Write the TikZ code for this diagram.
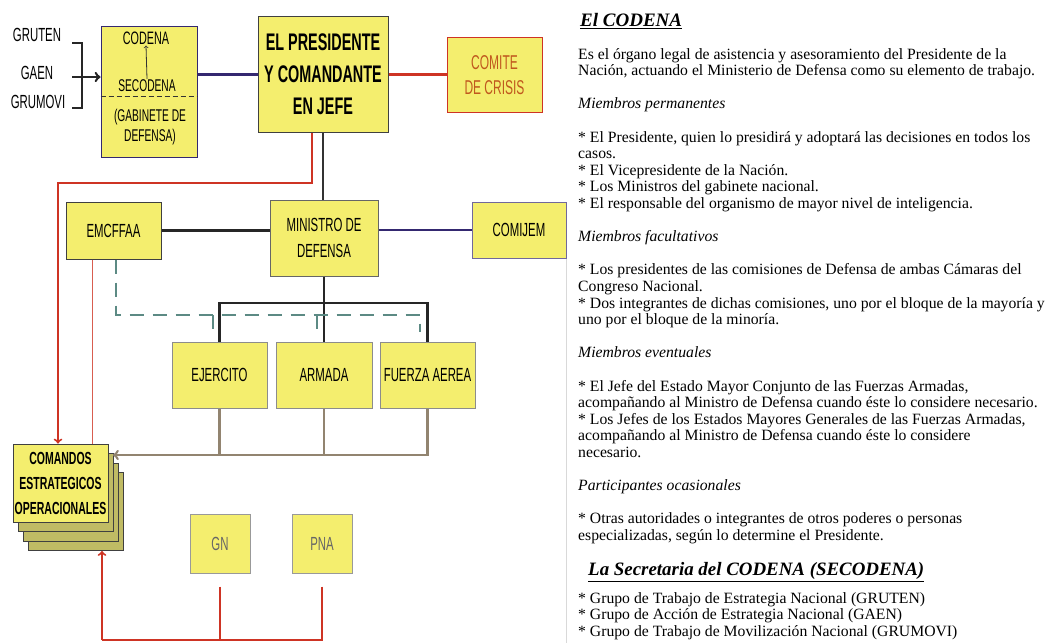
\documentclass[tikz,border=0pt]{standalone}
\usepackage{fontspec}
\setmainfont{Liberation Serif}
\newfontfamily\boxfont[FakeStretch=0.6]{Liberation Sans}
\usetikzlibrary{arrows}
\definecolor{cYellow}{RGB}{244,238,110}
\definecolor{cOlive}{RGB}{192,187,100}
\definecolor{cNavy}{RGB}{52,40,112}
\definecolor{cRed}{RGB}{206,52,36}
\definecolor{cTeal}{RGB}{92,138,132}
\definecolor{cBrown}{RGB}{146,132,112}
\definecolor{cOrange}{RGB}{192,88,30}

\begin{document}
\begin{tikzpicture}[x=1pt,y=-1pt,
  orgbox/.style={draw=black!75,fill=cYellow,line width=1pt,align=center,inner sep=1pt,text=black,font=\boxfont\fontsize{19}{26}\selectfont},
  stackbox/.style={draw=black!75,fill=cOlive,line width=1pt,minimum width=95,minimum height=78},
  lbl/.style={font=\boxfont\fontsize{19}{24}\selectfont,text=black,inner sep=1pt,align=center},
  navyln/.style={draw=cNavy,line width=2.5pt},
  redln/.style={draw=cRed,line width=2pt},
  blackln/.style={draw=black!85,line width=2.5pt},
  dashln/.style={draw=cTeal,line width=2.5pt,dash pattern=on 14pt off 9pt},
  brownln/.style={draw=cBrown,line width=2.5pt},
  thinred/.style={draw=cRed!80,line width=1pt},
  txt/.style={anchor=north west,inner sep=0pt,align=left,font=\fontsize{15.7}{16.6}\selectfont}
]
\useasboundingbox (0,0) rectangle (1051,642);

% Text Node
\node[lbl] (gruten) at (37,35) {GRUTEN};
% Text Node
\node[lbl] (gaen) at (37,73) {GAEN};
% Text Node
\node[lbl] (grumovi) at (38,102) {GRUMOVI};

%Shape: Rectangle
\node[orgbox,draw=cNavy,minimum width=96,minimum height=130] (codena) at (149,92) {};
% Text Node
\node[lbl,font=\boxfont\fontsize{18}{22}\selectfont] (codenat) at (146,38) {CODENA};
% Text Node
\node[lbl,font=\boxfont\fontsize{17}{20}\selectfont] (secod) at (147,86) {SECODENA};
% Text Node
\node[lbl,font=\boxfont\fontsize{17}{20}\selectfont] (gabin) at (150,127) {(GABINETE DE\\DEFENSA)};
\draw[black!80,line width=1.2pt,dash pattern=on 5pt off 3pt] ([yshift=-70pt]codena.north west) -- ([yshift=-70pt]codena.north east);
\draw[->,black!80,line width=0.8pt] (secod.north) -- (codenat.south);

%Straight Lines
\coordinate (brk) at (72,77);
\draw[blackln] (72,43) -- (82,43) -- (82,108) -- (72,108);
\draw[blackln,->] (brk) -- (brk -| codena.west);

%Shape: Rectangle
\node[orgbox,minimum width=130,minimum height=115,font=\boxfont\bfseries\fontsize{24}{32}\selectfont] (pres) at (323,74.5) {EL PRESIDENTE\\Y COMANDANTE\\EN JEFE};
%Shape: Rectangle
\node[orgbox,draw=cRed,text=cOrange,minimum width=95,minimum height=74,font=\boxfont\fontsize{20}{25}\selectfont] (comite) at (494.5,75) {COMITE\\DE CRISIS};
%Shape: Rectangle
\node[orgbox,minimum width=95,minimum height=57] (emcffaa) at (113.5,230.5) {EMCFFAA};
%Shape: Rectangle
\node[orgbox,draw=black!60,minimum width=108,minimum height=76] (ministro) at (324,238) {MINISTRO DE\\DEFENSA};
%Shape: Rectangle
\node[orgbox,draw=cNavy!70,minimum width=94,minimum height=56] (comijem) at (519,230) {COMIJEM};
%Shape: Rectangle
\node[orgbox,draw=black!45,minimum width=95,minimum height=66] (ejercito) at (219.5,375) {EJERCITO};
%Shape: Rectangle
\node[orgbox,draw=black!45,minimum width=96,minimum height=66] (armada) at (324,375) {ARMADA};
%Shape: Rectangle
\node[orgbox,draw=black!45,minimum width=95,minimum height=66] (fuerza) at (427.5,375) {FUERZA AEREA};
%Shape: Rectangle
\node[stackbox] (cmd3) at (75.5,511.5) {};
\node[stackbox] (cmd2) at (70.5,502) {};
\node[stackbox] (cmd1) at (65.5,492.5) {};
\node[orgbox,minimum width=95,minimum height=78,font=\boxfont\bfseries\fontsize{17.5}{25}\selectfont] (comandos) at (60.5,483) {COMANDOS\\ESTRATEGICOS\\OPERACIONALES};
%Shape: Rectangle
\node[orgbox,draw=black!40,text=black!60,minimum width=60,minimum height=59] (gn) at (220,543.5) {GN};
\node[orgbox,draw=black!40,text=black!60,minimum width=60,minimum height=59] (pna) at (322,543.5) {PNA};

%Straight Lines
\draw[navyln] (codena.east |- pres.west) -- (pres.west);
\draw[redln,line width=2.5pt] (pres.east) -- (pres.east -| comite.west);
\draw[redln,->] ([xshift=-11pt]pres.south) -- ++(0,50) -| ([xshift=-2.5pt]comandos.north);
\draw[black!80,line width=2pt] (pres.south) -- (pres.south |- ministro.north);
\draw[blackln] (emcffaa.east) -- (emcffaa.east -| ministro.west);
\draw[navyln,line width=2pt] (ministro.east |- comijem.west) -- (comijem.west);

% tree below the minister
\draw[blackln] (ministro.south) -- (armada.north);
\coordinate (tj) at (324,303);
\draw[blackln] (ejercito.north) |- (tj) -| (fuerza.north);

% dashed link
\coordinate (dsh1) at (213,315);
\coordinate (dsh2) at (317,315);
\coordinate (dsh3) at (420,315);
\draw[dashln] ([xshift=2.5pt]emcffaa.south) |- (dsh3) -- ++(0,17);
\draw[dashln] (dsh1) -- ++(0,17);
\draw[dashln] (dsh2) -- ++(0,17);

% to the strategic commands
\coordinate (cmdin) at (113,455);
\draw[brownln,->] (fuerza.south) |- (cmdin);
\draw[brownln] (ejercito.south) -- (ejercito.south |- cmdin);
\draw[brownln] (armada.south) -- (armada.south |- cmdin);
\coordinate (rt) at ([xshift=-21.5pt]emcffaa.south);
\draw[thinred] (rt) -- (rt |- comandos.north);

% bottom red lines
\coordinate (rb) at (102,640);
\draw[redln,->] (rb) -- (rb |- cmd3.south);
\draw[redln] ([yshift=-13pt]pna.south) |- (rb);
\draw[redln] ([yshift=-13pt]gn.south) -- ++(0,54);

% edge of the text panel
\draw[black!15,line width=0.8pt] (comijem.south east) -- ++(0,384);

% Text Node
\node[anchor=west,inner sep=0pt,font=\bfseries\itshape\fontsize{19}{22}\selectfont] (ttl) at (580,21) {\underline{El CODENA}};
% Text Node
\node[txt] (body) at (578,48) {Es el órgano legal de asistencia y asesoramiento del Presidente de la\\
Nación, actuando el Ministerio de Defensa como su elemento de trabajo.\\[16.6pt]
\textit{Miembros permanentes}\\[16.6pt]
* El Presidente, quien lo presidirá y adoptará las decisiones en todos los\\
casos.\\
* El Vicepresidente de la Nación.\\
* Los Ministros del gabinete nacional.\\
* El responsable del organismo de mayor nivel de inteligencia.\\[16.6pt]
\textit{Miembros facultativos}\\[16.6pt]
* Los presidentes de las comisiones de Defensa de ambas Cámaras del\\
Congreso Nacional.\\
* Dos integrantes de dichas comisiones, uno por el bloque de la mayoría y\\
uno por el bloque de la minoría.\\[16.6pt]
\textit{Miembros eventuales}\\[16.6pt]
* El Jefe del Estado Mayor Conjunto de las Fuerzas Armadas,\\
acompañando al Ministro de Defensa cuando éste lo considere necesario.\\
* Los Jefes de los Estados Mayores Generales de las Fuerzas Armadas,\\
acompañando al Ministro de Defensa cuando éste lo considere\\
necesario.\\[16.6pt]
\textit{Participantes ocasionales}\\[16.6pt]
* Otras autoridades o integrantes de otros poderes o personas\\
especializadas, según lo determine el Presidente.};
% Text Node
\node[anchor=west,inner sep=0pt,font=\bfseries\itshape\fontsize{18.9}{22}\selectfont] (secr) at (588,572) {\underline{La Secretaria del CODENA (SECODENA)}};
% Text Node
\node[txt] (grupos) at (578,592) {* Grupo de Trabajo de Estrategia Nacional (GRUTEN)\\
* Grupo de Acción de Estrategia Nacional (GAEN)\\
* Grupo de Trabajo de Movilización Nacional (GRUMOVI)};

\end{tikzpicture}
\end{document}
